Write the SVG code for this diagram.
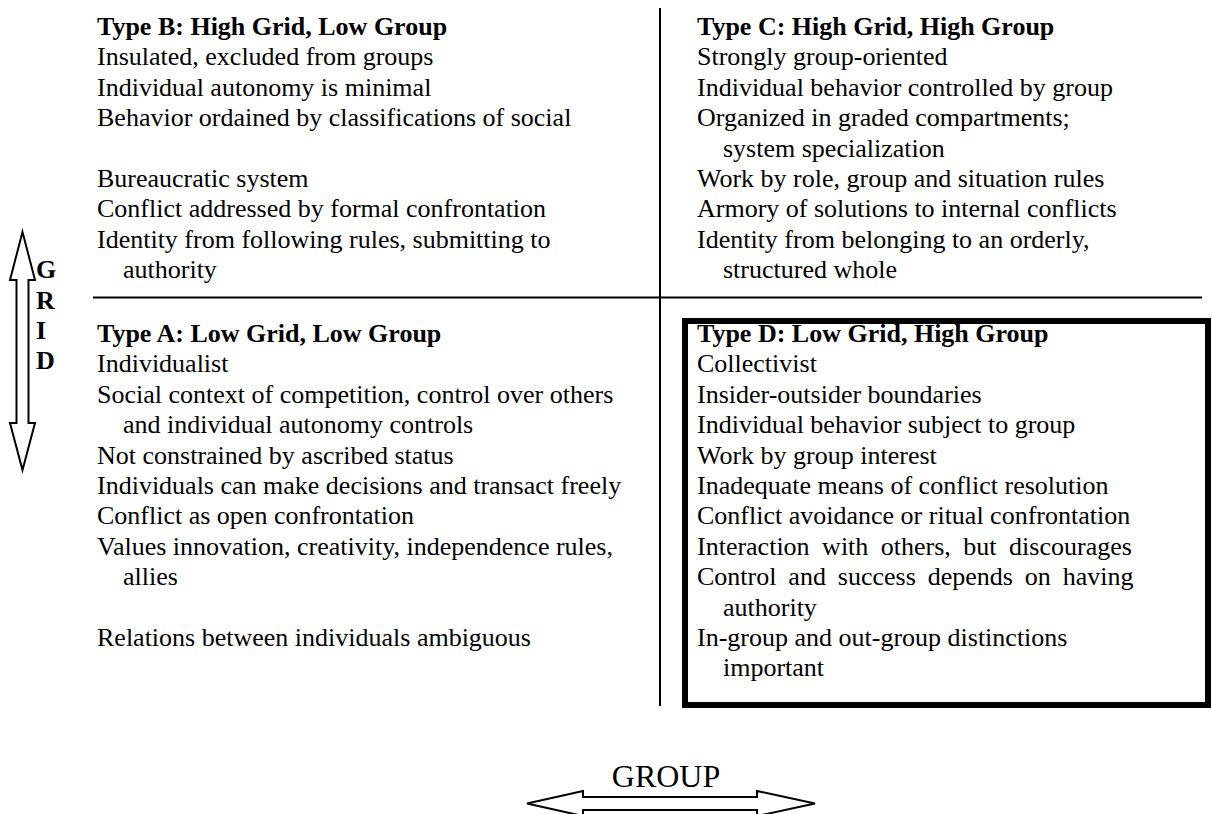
<svg xmlns="http://www.w3.org/2000/svg" width="1212" height="814" viewBox="0 0 1212 814">
<style>
text{font-family:"Liberation Serif","Times New Roman",serif;font-size:26px;fill:#000}
.h{font-weight:bold}
.ax{font-weight:bold}
.grp{font-size:32px}
.line{stroke:#000;stroke-width:2;fill:none}
.arrow{fill:#fff;stroke:#000;stroke-width:2;stroke-linejoin:miter}
.box{fill:none;stroke:#000;stroke-width:6}
</style>
<rect width="1212" height="814" fill="#fff"/>
<g id="dividers">
<line class="line" x1="660" y1="8" x2="660" y2="706"/>
<line class="line" x1="93" y1="297.5" x2="1202" y2="297.5"/>
</g>
<g id="typeB">
<text class="h" x="97" y="35">Type B: High Grid, Low Group</text>
<text x="97" y="65.4">Insulated, excluded from groups</text>
<text x="97" y="95.8">Individual autonomy is minimal</text>
<text x="97" y="126.2">Behavior ordained by classifications of social</text>
<text x="97" y="187">Bureaucratic system</text>
<text x="97" y="217.4">Conflict addressed by formal confrontation</text>
<text x="97" y="247.8">Identity from following rules, submitting to</text>
<text x="123" y="278.2">authority</text>
</g>
<g id="typeC">
<text class="h" x="697" y="35">Type C: High Grid, High Group</text>
<text x="697" y="65.4">Strongly group-oriented</text>
<text x="697" y="95.8">Individual behavior controlled by group</text>
<text x="697" y="126.2">Organized in graded compartments;</text>
<text x="723" y="156.6">system specialization</text>
<text x="697" y="187">Work by role, group and situation rules</text>
<text x="697" y="217.4">Armory of solutions to internal conflicts</text>
<text x="697" y="247.8">Identity from belonging to an orderly,</text>
<text x="723" y="278.2">structured whole</text>
</g>
<g id="typeA">
<text class="h" x="97" y="342">Type A: Low Grid, Low Group</text>
<text x="97" y="372.4">Individualist</text>
<text x="97" y="402.8">Social context of competition, control over others</text>
<text x="123" y="433.2">and individual autonomy controls</text>
<text x="97" y="463.6">Not constrained by ascribed status</text>
<text x="97" y="494">Individuals can make decisions and transact freely</text>
<text x="97" y="524.4">Conflict as open confrontation</text>
<text x="97" y="554.8">Values innovation, creativity, independence rules,</text>
<text x="123" y="585.2">allies</text>
<text x="97" y="646">Relations between individuals ambiguous</text>
</g>
<g id="typeD">
<rect class="box" x="685" y="321" width="523" height="384"/>
<text class="h" x="697" y="342">Type D: Low Grid, High Group</text>
<text x="697" y="372.4">Collectivist</text>
<text x="697" y="402.8">Insider-outsider boundaries</text>
<text x="697" y="433.2">Individual behavior subject to group</text>
<text x="697" y="463.6">Work by group interest</text>
<text x="697" y="494">Inadequate means of conflict resolution</text>
<text x="697" y="524.4">Conflict avoidance or ritual confrontation</text>
<text x="697" y="554.8" style="word-spacing:6px">Interaction with others, but discourages</text>
<text x="697" y="585.2" style="word-spacing:5.4px">Control and success depends on having</text>
<text x="723" y="615.6">authority</text>
<text x="697" y="646">In-group and out-group distinctions</text>
<text x="723" y="676.4">important</text>
</g>
<g id="connectors">
<polygon id="gridArrow" class="arrow" points="22.5,232 35,280 28.5,280 28.5,423 35,423 22.5,470 10,423 16.5,423 16.5,280 10,280"/>
<polygon id="groupArrow" class="arrow" points="527,803.5 583,791 583,797 757,797 757,791 815,803.5 757,816 757,810 583,810 583,816"/>
</g>
<g id="gridLabel">
<text class="ax" x="36" y="278.2">G</text>
<text class="ax" x="36" y="308.6">R</text>
<text class="ax" x="36" y="339">I</text>
<text class="ax" x="36" y="369.4">D</text>
</g>
<g id="groupLabel">
<text class="grp" x="666" y="787" text-anchor="middle">GROUP</text>
</g>
</svg>
